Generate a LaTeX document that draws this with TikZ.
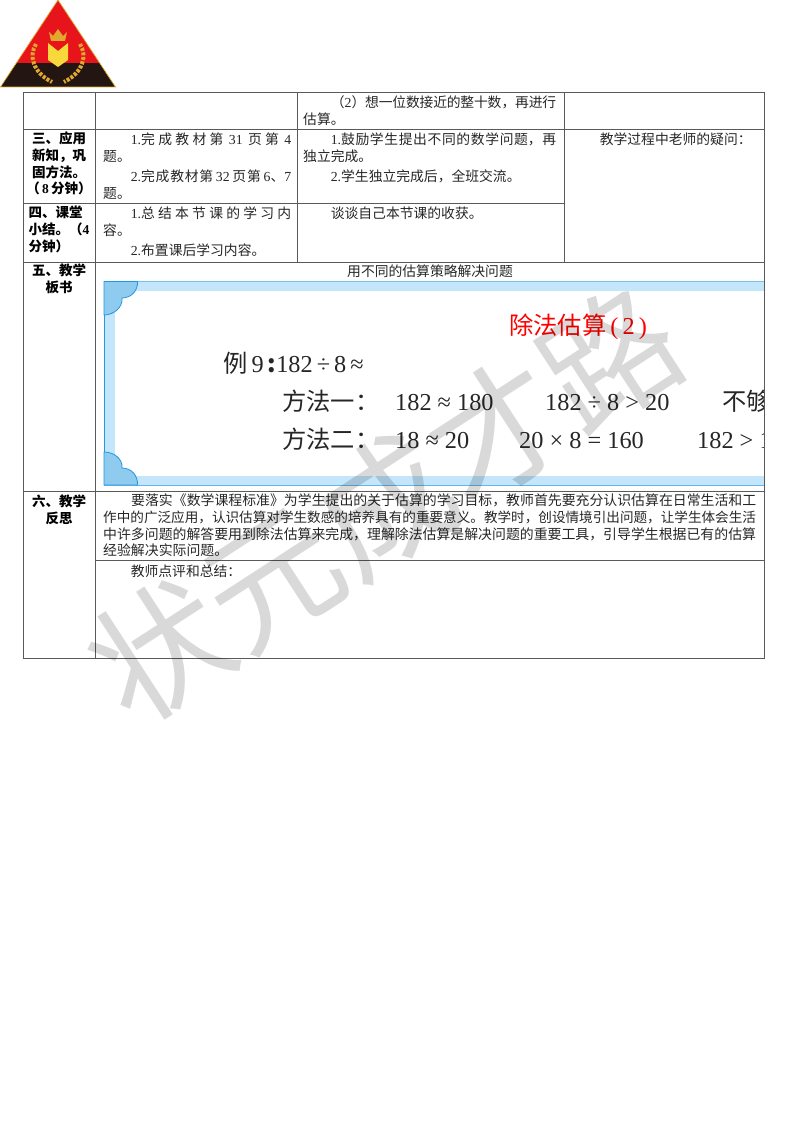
\documentclass[tikz,border=0pt]{standalone}
\usepackage{fontspec}
\setmainfont{Noto Sans CJK SC}
\newfontfamily\latinf{Liberation Serif}
\XeTeXlinebreaklocale "zh"
\XeTeXlinebreakskip=0pt plus 1000pt minus 0.3pt
\XeTeXlinebreakpenalty=10000
\newcommand{\dg}[1]{{\latinf #1}}
\newcommand{\ind}{\hspace*{2em}}
\newcommand{\gap}{\nobreak\hskip 2pt plus 1000pt\relax}
\usetikzlibrary{positioning}
\definecolor{tableline}{HTML}{5A5A5A}
\definecolor{bandblue}{HTML}{C3E6FB}
\definecolor{cornerblue}{HTML}{8ECBEE}
\definecolor{edgeblue}{HTML}{2496E2}
\definecolor{logored}{HTML}{E8141C}
\definecolor{logodark}{HTML}{231612}
\definecolor{logogold}{HTML}{E0A92E}
\definecolor{logoyellow}{HTML}{F8D83A}
\begin{document}
\begin{tikzpicture}[x=1pt,y=-1pt,
    tableline/.style={draw=tableline,line width=1pt},
    cell/.style={anchor=north west,inner sep=0pt,align=justify,text=black!85,font=\fontsize{13.8}{17}\selectfont},
    wideline/.style={anchor=base west,inner sep=0pt,text=black!85,font=\fontsize{13.89}{17}\selectfont},
    headcell/.style={anchor=north,inner sep=0pt,text=black,font=\bfseries\fontsize{13.5}{16.8}\selectfont},
    figtext/.style={anchor=base west,inner sep=0pt,text=black!85,font=\fontsize{24.3}{28}\selectfont},
    leaf/.style={draw=logogold,line width=4pt,dash pattern=on 3pt off 1.5pt}]
    \useasboundingbox (0,0) rectangle (800,1132);

    % logo
    \begin{scope}
        \clip (58,0) -- (115.5,87) -- (0.5,87) -- cycle;
        \fill[logored] (0,0) rectangle (116,63);
        \fill[logodark] (0,63) rectangle (116,87);
    \end{scope}
    \draw[logogold,line width=0.7pt] (58,0) -- (115.5,87) -- (0.5,87) -- cycle;
    \fill[logoyellow] (48,43) -- (58,51) -- (68,43) -- (68,60) -- (58,67) -- (48,60) -- cycle;
    \fill[logogold] (49,32) -- (53,36) -- (58,29) -- (63,36) -- (67,32) -- (65,41) -- (51,41) -- cycle;
    \draw[leaf] (36,44) .. controls (29,55) and (32,72) .. (52,82);
    \draw[leaf] (80,44) .. controls (87,55) and (84,72) .. (64,82);

    % picture in the fifth row
    \fill[bandblue] (104,281.5) rectangle (764,291);
    \fill[bandblue] (104,476) rectangle (764,485);
    \fill[bandblue] (104,281.5) rectangle (115,485);
    \draw[edgeblue!60,line width=0.7pt] (104,281.5) -- (764,281.5);
    \draw[edgeblue!70,line width=0.7pt] (104,485) -- (764,485);
    \draw[edgeblue,line width=0.8pt] (104,281.5) -- (104,485);
    \filldraw[fill=cornerblue,draw=edgeblue,line width=0.8pt] (104,281.5) -- (137.5,281.5)
        .. controls (138,291) and (131,298) .. (122,298)
        .. controls (123,307) and (114,315) .. (104,315) -- cycle;
    \filldraw[fill=cornerblue,draw=edgeblue,line width=0.8pt] (104,485) -- (137.5,485)
        .. controls (138,475) and (131,468) .. (122,468)
        .. controls (123,459) and (114,452) .. (104,452) -- cycle;
    \begin{scope}
        \clip (104,281) rectangle (764,486);
        \node[figtext,text=red] (figtitle) at (509,334) {除法估算\,\dg{(\,2\,)}};
        \node[figtext] (example) at (223,372) {例\,\dg{9}\,\textbf{:}\dg{182\,÷\,8\,≈}};
        \node[figtext] (way1) at (282,410) {方法一：};
        \node[figtext] (way1a) at (395,410) {\dg{182 ≈ 180}};
        \node[figtext] (way1b) at (545,410) {\dg{182 ÷ 8 > 20}};
        \node[figtext] (way1c) at (722,410) {不够};
        \node[figtext] (way2) at (282,448) {方法二：};
        \node[figtext] (way2a) at (395,448) {\dg{18 ≈ 20}};
        \node[figtext] (way2b) at (519,448) {\dg{20 × 8 = 160}};
        \node[figtext] (way2c) at (697,448) {\dg{182 > 1}};
    \end{scope}

    % table
    \draw[tableline] (23.5,92) rectangle (764,658);
    \draw[tableline] (95,92) -- (95,658);
    \draw[tableline] (297.5,92) -- (297.5,262);
    \draw[tableline] (564,92) -- (564,262);
    \draw[tableline] (23.5,129) -- (764,129);
    \draw[tableline] (23.5,203) -- (564,203);
    \draw[tableline] (23.5,262) -- (764,262);
    \draw[tableline] (23.5,491) -- (764,491);
    \draw[tableline] (95,560) -- (764,560);

    % first column
    \node[headcell,align=center] (apply) at (59,131.5) {三、应用\\新知，巩\\固方法。\\（\,\dg{8}\,分钟）};
    \node[headcell,align=left] (summary) at (59,206) {四、课堂\\小结。（\dg{4}\\分钟）};
    \node[headcell,align=center] (board) at (59,263.5) {五、教学\\板书};
    \node[headcell,align=center] (reflect) at (59,495) {六、教学\\反思};

    % other cells
    \node[cell,text width=253pt] (estimate) at (303,95) {\ind（\dg{2}）想一位数接近的整十数，再进行\linebreak 估算。};
    \node[cell,text width=188pt] (book) at (103,132.5) {\ind\dg{1.}完成教材第\gap\dg{31}\gap 页第\gap\dg{4}\linebreak 题。\par\vspace{3pt}\ind\dg{2.}完成教材第\gap\dg{32}\gap 页第\gap\dg{6}、\dg{7}\linebreak 题。};
    \node[cell,text width=253pt] (pupil) at (303,132.5) {\ind\dg{1.}鼓励学生提出不同的数学问题，再\linebreak 独立完成。\par\vspace{3pt}\ind\dg{2.}学生独立完成后，全班交流。};
    \node[cell,text width=188pt] (content) at (103,206.5) {\ind\dg{1.}总结本节课的学习内\linebreak 容。\par\vspace{3pt}\ind\dg{2.}布置课后学习内容。};
    \node[cell,text width=253pt] (gains) at (303,206.5) {\ind 谈谈自己本节课的收获。};
    \node[cell,text width=188pt] (doubt) at (572,132.5) {\ind 教学过程中老师的疑问：};
    \node[cell,anchor=north,align=center] (strategy) at (430,264.5) {用不同的估算策略解决问题};
    \node[wideline] (reflect1) at (131,505.5) {要落实《数学课程标准》为学生提出的关于估算的学习目标，教师首先要充分认识估算在日常生活和工};
    \node[wideline,font=\fontsize{13.6}{17}\selectfont] (reflect2) at (103,522.5) {作中的广泛应用，认识估算对学生数感的培养具有的重要意义。教学时，创设情境引出问题，让学生体会生活};
    \node[wideline] (reflect3) at (103,539) {中许多问题的解答要用到除法估算来完成，理解除法估算是解决问题的重要工具，引导学生根据已有的估算};
    \node[wideline] (reflect4) at (103,555.5) {经验解决实际问题。};
    \node[cell,text width=653pt] (comment) at (103,564.5) {\ind 教师点评和总结：};

    % watermark
    \node[inner sep=0pt,rotate=33,opacity=0.15,font=\fontsize{134}{140}\selectfont] (mark) at (385,505) {状元成才路};
\end{tikzpicture}
\end{document}
